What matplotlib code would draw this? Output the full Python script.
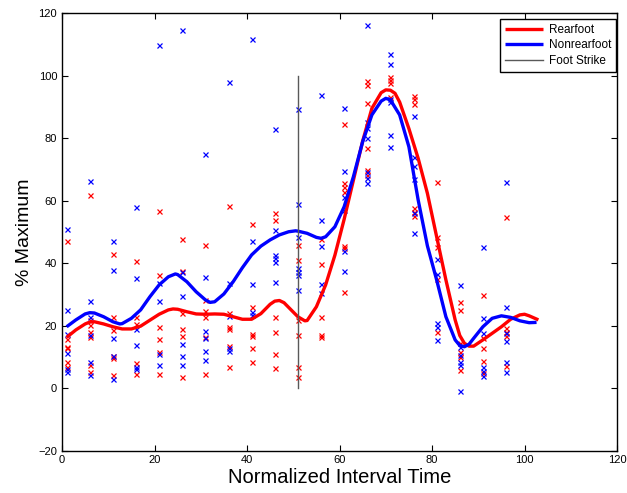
import matplotlib
matplotlib.use('Agg')
import matplotlib.pyplot as plt

plt.rcParams['font.family'] = ['Liberation Sans', 'DejaVu Sans']

# Sample times for the scatter columns
times = [1, 6, 11, 16, 21, 26, 31, 36, 41, 46, 51, 56, 61, 66, 71, 76, 81, 86, 91, 96]

# Rearfoot samples (red crosses), one list per time
rear_pts = [
    [46.9, 15.7, 13.2, 12.7, 8.4, 6.8],
    [61.8, 21.8, 20.2, 18.0, 16.4, 7.4, 5.2],
    [42.9, 22.8, 18.6, 10.2, 9.5, 4.2],
    [40.7, 22.8, 20.5, 7.9, 4.4],
    [56.7, 36.2, 19.6, 15.7, 11.4, 4.4],
    [47.7, 37.5, 24.1, 18.9, 16.7, 3.6],
    [45.8, 28.2, 24.6, 22.8, 16.3, 4.4],
    [58.2, 24.1, 19.6, 18.9, 13.5, 6.6],
    [52.4, 26.0, 17.3, 16.7, 12.7, 8.2],
    [55.9, 53.8, 22.8, 17.8, 10.9, 6.3],
    [45.8, 41.0, 21.8, 17.0, 6.8, 3.4],
    [47.7, 39.7, 22.8, 17.0, 16.4],
    [84.4, 65.5, 64.4, 62.8, 45.5, 44.7, 30.8],
    [98.2, 97.0, 91.3, 76.9, 69.8, 68.2],
    [99.4, 98.6, 97.7, 93.2],
    [93.4, 92.5, 90.9, 57.5, 56.2, 55.1],
    [65.8, 48.2, 45.2, 34.8, 18.0],
    [27.4, 25.0, 14.3, 11.6, 9.8, 5.8],
    [29.8, 16.1, 12.7, 8.6, 4.9],
    [54.6, 19.3, 18.0, 16.6, 7.0],
]

# Nonrearfoot samples (blue crosses)
nonrear_pts = [
    [50.8, 25.0, 17.3, 11.1, 6.1, 5.0],
    [66.2, 28.0, 22.8, 17.0, 8.4, 4.2],
    [47.1, 37.8, 16.1, 10.2, 2.8],
    [58.0, 35.1, 18.8, 13.8, 6.6, 6.1],
    [109.7, 33.7, 28.0, 10.9, 7.4],
    [114.6, 37.0, 29.5, 14.1, 10.4, 7.3],
    [74.8, 35.4, 18.4, 16.0, 11.9, 9.0],
    [98.0, 33.7, 23.0, 12.9, 11.8],
    [111.6, 47.0, 33.2, 24.4, 23.4],
    [82.9, 50.6, 42.6, 41.5, 40.4, 33.8],
    [89.3, 58.9, 48.4, 38.3, 37.2, 36.2, 31.4],
    [93.8, 53.8, 45.5, 33.3, 30.5],
    [89.5, 69.5, 61.2, 57.0, 43.9, 37.5],
    [116.2, 85.2, 83.3, 80.1, 69.2, 67.1, 65.5],
    [106.9, 103.6, 92.5, 91.6, 81.0, 77.2],
    [87.1, 73.8, 71.1, 66.9, 56.0, 49.7],
    [41.2, 36.4, 20.9, 19.6, 15.4],
    [33.0, 13.2, 10.6, 8.4, 7.4, -0.9],
    [45.2, 22.5, 17.5, 6.6, 5.5, 3.9],
    [66.0, 26.0, 17.5, 15.0, 8.4, 5.0],
]

# Smoothed mean curves
rear_x = [1, 3, 5, 6, 7, 9, 11, 13, 15, 17, 19, 21, 23, 24, 25, 27, 29, 31, 33, 35, 37, 39,
          41, 43, 45, 46, 47, 48, 49, 51, 52.5, 53, 55, 57, 59, 61, 63, 65, 67, 69, 70, 71,
          72, 73, 75, 77, 79, 81, 83, 85, 86, 87, 88, 89, 91, 93, 95, 97, 99, 100, 101, 103]
rear_y = [16.2, 18.6, 20.5, 21.1, 21.2, 20.5, 19.6, 18.9, 18.9, 19.8, 21.7, 23.6, 25.0,
          25.3, 25.2, 24.4, 23.7, 23.6, 23.7, 23.6, 22.8, 22.0, 22.0, 23.8, 26.8, 27.8,
          28.0, 27.3, 25.8, 22.8, 21.5, 21.6, 26.0, 33.0, 42.5, 54.0, 66.5, 79.0, 89.5,
          94.5, 95.4, 95.3, 94.3, 91.5, 83.0, 73.5, 62.3, 48.4, 34.6, 21.8, 16.8, 14.3,
          13.4, 13.4, 15.4, 17.5, 19.6, 22.0, 23.4, 23.6, 23.1, 21.8]

nonrear_x = [1, 3, 5, 6, 7, 9, 11, 12.5, 13, 15, 17, 19, 21, 23, 24.5, 25, 27, 29, 31, 32,
             33, 35, 37, 39, 41, 43, 45, 47, 49, 50.5, 51, 53, 55, 56, 57, 59, 61, 63, 65,
             67, 69, 70, 71, 73, 75, 77, 79, 81, 83, 85, 86, 87, 88, 89, 91, 93, 95, 97,
             99, 101, 102.6]
nonrear_y = [19.6, 21.8, 23.7, 24.1, 24.0, 22.8, 21.2, 20.5, 20.6, 22.3, 25.0, 29.2, 33.0,
             35.6, 36.5, 36.3, 34.0, 30.8, 28.2, 27.4, 27.6, 30.1, 34.0, 38.5, 42.6, 45.4,
             47.4, 49.0, 50.0, 50.3, 50.2, 49.5, 48.2, 47.9, 48.4, 51.6, 58.0, 67.6, 78.8,
             87.4, 91.8, 92.7, 92.2, 87.4, 77.2, 60.2, 45.5, 34.6, 22.8, 15.4, 13.6, 13.2,
             14.0, 15.9, 19.6, 22.3, 23.1, 22.6, 21.5, 20.9, 21.0]

strike_x = 51
strike_y = [0, 100]

fig = plt.figure(figsize=(6.27, 4.93), dpi=100)
ax = fig.add_axes([0.0989, 0.0862, 0.8852, 0.8874])

# scatter crosses
for t, vals in zip(times, rear_pts):
    ax.plot([t] * len(vals), vals, 'x', color='r', ms=3.6, mew=0.9)
for t, vals in zip(times, nonrear_pts):
    ax.plot([t] * len(vals), vals, 'x', color='b', ms=3.6, mew=0.9)

ax.plot(rear_x, rear_y, '-', color='r', lw=2.4, label='Rearfoot',
        solid_joinstyle='round', solid_capstyle='butt')
ax.plot(nonrear_x, nonrear_y, '-', color='b', lw=2.4, label='Nonrearfoot',
        solid_joinstyle='round', solid_capstyle='butt')
ax.plot([strike_x, strike_x], strike_y, '-', color='0.35', lw=1.0, label='Foot Strike')

ax.set_xlim(0, 120)
ax.set_ylim(-20, 120)
ax.set_xticks(range(0, 121, 20))
ax.set_yticks(range(-20, 121, 20))
ax.tick_params(direction='in', top=True, right=True, labelsize=8, length=4, width=0.8)
for sp in ax.spines.values():
    sp.set_linewidth(1.0)

ax.set_xlabel('Normalized Interval Time', fontsize=14.5, labelpad=2)
ax.set_ylabel('% Maximum', fontsize=14, labelpad=4)

leg = ax.legend(loc='upper right', bbox_to_anchor=(0.999, 0.986), fontsize=8.5,
                fancybox=False, edgecolor='k', borderaxespad=0, handlelength=3.3,
                handletextpad=0.5, labelspacing=0.3, framealpha=1)
leg.get_frame().set_linewidth(1.0)

fig.savefig('out.png', dpi=100)
